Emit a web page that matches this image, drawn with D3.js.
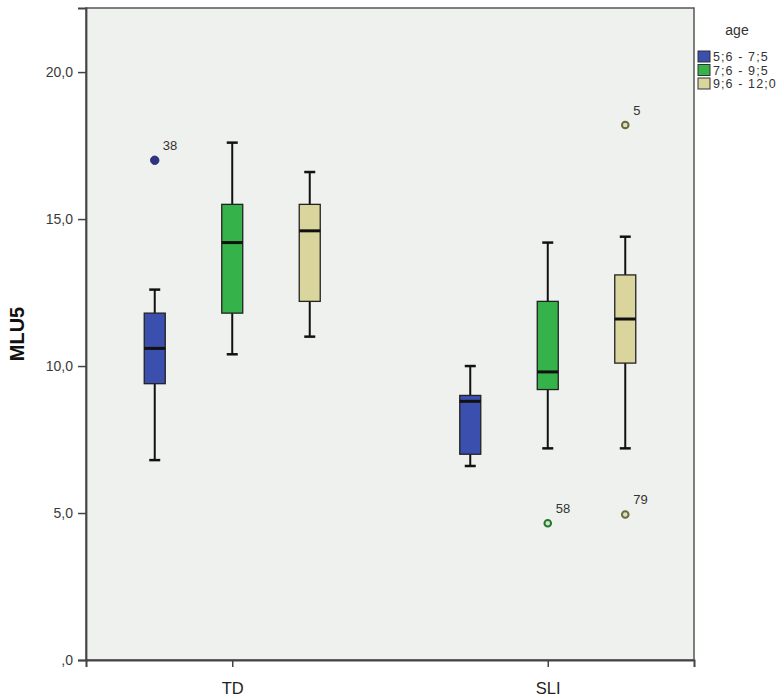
<!DOCTYPE html>
<html>
<head>
<meta charset="utf-8">
<script src="https://cdn.jsdelivr.net/npm/d3@7"></script>
<style>
  html, body { margin: 0; padding: 0; background: #ffffff; }
  svg { display: block; font-family: "Liberation Sans", Arial, sans-serif; }
</style>
</head>
<body>
<svg id="chart" width="783" height="697"></svg>
<script>
// ---- data ----
const groups = ["TD", "SLI"];
const ages = ["5;6 - 7;5", "7;6 - 9;5", "9;6 - 12;0"];
const ageColors = ["#3b4fae", "#35b24a", "#d9d59c"];
const outlierStroke = ["#2a2f7a", "#1f7a30", "#6d6a35"];

const boxGroup   = ["TD", "TD", "TD", "SLI", "SLI", "SLI"];
const boxAge     = ["5;6 - 7;5", "7;6 - 9;5", "9;6 - 12;0", "5;6 - 7;5", "7;6 - 9;5", "9;6 - 12;0"];
const whiskerLow = [6.8, 10.4, 11.0, 6.6, 7.2, 7.2];
const q1         = [9.4, 11.8, 12.2, 7.0, 9.2, 10.1];
const median     = [10.6, 14.2, 14.6, 8.8, 9.8, 11.6];
const q3         = [11.8, 15.5, 15.5, 9.0, 12.2, 13.1];
const whiskerHigh= [12.6, 17.6, 16.6, 10.0, 14.2, 14.4];

const outlierGroup = ["TD", "SLI", "SLI", "SLI"];
const outlierAge   = ["5;6 - 7;5", "7;6 - 9;5", "9;6 - 12;0", "9;6 - 12;0"];
const outlierValue = [17.0, 4.65, 4.95, 18.2];
const outlierLabel = ["38", "58", "79", "5"];

const yTickValues = [0, 5, 10, 15, 20];
const yTickLabels = [",0", "5,0", "10,0", "15,0", "20,0"];
const yTitle = "MLU5";
const legendTitle = "age";

// ---- layout ----
const svg = d3.select("#chart");
const pL = 86, pR = 694, pT = 8, pB = 660;

const x = d3.scalePoint().domain(groups).range([pL, pR]).padding(0.4635);
const xi = d3.scalePoint().domain(ages).range([-77.5, 77.5]);
const y = d3.scaleLinear().domain([0, 22.18]).range([pB, pT]);
const color = d3.scaleOrdinal().domain(ages).range(ageColors);
const ostroke = d3.scaleOrdinal().domain(ages).range(outlierStroke);

// plot background
svg.append("rect")
  .attr("x", pL).attr("y", pT)
  .attr("width", pR - pL).attr("height", pB - pT)
  .attr("fill", "#eff1ef")
  .attr("stroke", "#555").attr("stroke-width", 1.5);

// axes
const yAxis = d3.axisLeft(y)
  .tickValues(yTickValues)
  .tickFormat((d, i) => yTickLabels[i])
  .tickSize(8).tickPadding(5);
const gy = svg.append("g").attr("transform", `translate(${pL},0)`).call(yAxis);
gy.select(".domain").attr("stroke", "#444").attr("stroke-width", 1.8);
gy.selectAll(".tick line").attr("stroke", "#444").attr("stroke-width", 1.5);
gy.selectAll(".tick text").attr("fill", "#3a3a3a").style("font-size", "14px");

const xAxis = d3.axisBottom(x).tickSize(7).tickPadding(3);
const gx = svg.append("g").attr("transform", `translate(0,${pB})`).call(xAxis);
gx.select(".domain").attr("stroke", "#444").attr("stroke-width", 2);
gx.selectAll(".tick line").attr("stroke", "#444").attr("stroke-width", 1.5);
gx.selectAll(".tick text").attr("fill", "#222").style("font-size", "16.5px")
  .attr("y", 22).attr("dy", "0.71em");

// y title
svg.append("text")
  .attr("transform", "translate(24,334) rotate(-90)")
  .attr("text-anchor", "middle")
  .style("font-size", "20px").style("font-weight", "bold")
  .attr("fill", "#111")
  .text(yTitle);

// boxes
const boxW = 21, capW = 11;
const boxes = boxGroup.map((g, i) => ({
  g, a: boxAge[i], lo: whiskerLow[i], q1: q1[i], med: median[i], q3: q3[i], hi: whiskerHigh[i]
}));
const bg = svg.append("g");
boxes.forEach(b => {
  const cx = x(b.g) + xi(b.a);
  const g = bg.append("g");
  g.append("line").attr("x1", cx).attr("x2", cx).attr("y1", y(b.hi)).attr("y2", y(b.q3))
    .attr("stroke", "#111").attr("stroke-width", 2);
  g.append("line").attr("x1", cx).attr("x2", cx).attr("y1", y(b.q1)).attr("y2", y(b.lo))
    .attr("stroke", "#111").attr("stroke-width", 2);
  g.append("line").attr("x1", cx - capW / 2).attr("x2", cx + capW / 2).attr("y1", y(b.hi)).attr("y2", y(b.hi))
    .attr("stroke", "#111").attr("stroke-width", 2.5);
  g.append("line").attr("x1", cx - capW / 2).attr("x2", cx + capW / 2).attr("y1", y(b.lo)).attr("y2", y(b.lo))
    .attr("stroke", "#111").attr("stroke-width", 2.5);
  g.append("rect").attr("x", cx - boxW / 2).attr("y", y(b.q3))
    .attr("width", boxW).attr("height", y(b.q1) - y(b.q3))
    .attr("fill", color(b.a)).attr("stroke", "#222").attr("stroke-width", 1.3);
  g.append("line").attr("x1", cx - boxW / 2).attr("x2", cx + boxW / 2).attr("y1", y(b.med)).attr("y2", y(b.med))
    .attr("stroke", "#111").attr("stroke-width", 3);
});

// outliers
const outliers = outlierGroup.map((g, i) => ({ g, a: outlierAge[i], v: outlierValue[i], lab: outlierLabel[i] }));
const og = svg.append("g");
outliers.forEach((o, i) => {
  const cx = x(o.g) + xi(o.a), cy = y(o.v);
  const filled = i === 0;
  og.append("circle").attr("cx", cx).attr("cy", cy).attr("r", filled ? 4.2 : 3.3)
    .attr("fill", filled ? "#2f3384" : "#d8e0c8")
    .attr("stroke", ostroke(o.a)).attr("stroke-width", filled ? 1 : 2);
  og.append("text").attr("x", cx + 8).attr("y", cy - 10)
    .style("font-size", "13px").attr("fill", "#333").text(o.lab);
});

// legend
const lg = svg.append("g");
lg.append("text").attr("x", 737).attr("y", 35).attr("text-anchor", "middle")
  .style("font-size", "14px").attr("fill", "#333").text(legendTitle);
ages.forEach((a, i) => {
  const yy = 51 + i * 13.5;
  lg.append("rect").attr("x", 698).attr("y", yy).attr("width", 12).attr("height", 11)
    .attr("fill", color(a)).attr("stroke", "#333").attr("stroke-width", 1);
  lg.append("text").attr("x", 713).attr("y", yy + 10)
    .style("font-size", "12.5px").style("letter-spacing", "1.1px")
    .attr("fill", "#333").text(a);
});
</script>
</body>
</html>
